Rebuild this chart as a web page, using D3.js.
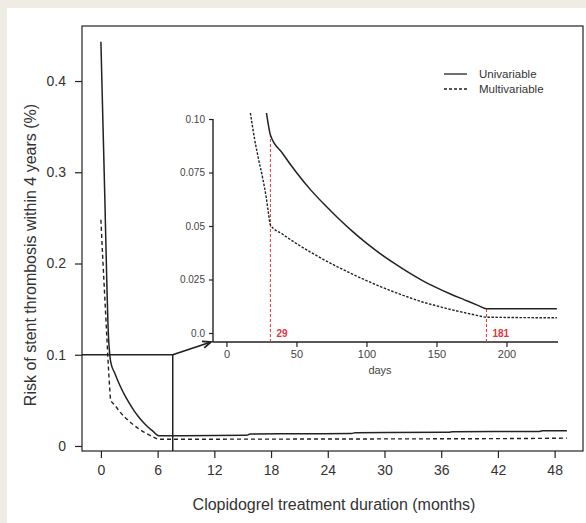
<!DOCTYPE html>
<html>
<head>
<meta charset="utf-8">
<script src="https://cdn.jsdelivr.net/npm/d3@7"></script>
<style>
body { margin: 0; background: #efece3; }
svg { display: block; font-family: "Liberation Sans", Arial, sans-serif; }
</style>
</head>
<body>
<svg id="chart" width="586" height="523"></svg>
<script>
// main panel: months vs risk
var monthTicks = [0, 6, 12, 18, 24, 30, 36, 42, 48];
var riskTicks = [0, 0.1, 0.2, 0.3, 0.4];
var riskTickLabels = ["0", "0.1", "0.2", "0.3", "0.4"];

var uniMonths = [0, 0.2, 0.42, 0.6, 0.8, 0.94, 1.03, 1.5, 2, 2.5, 3, 3.5, 4, 4.5, 5, 5.5, 6.1, 15.4, 15.8, 26.5, 26.9, 36.8, 37.2, 46.3, 46.7, 49.3];
var uniRisk = [0.443, 0.36, 0.27, 0.19, 0.12, 0.1, 0.0925, 0.079, 0.0665, 0.056, 0.047, 0.0388, 0.0318, 0.0257, 0.0206, 0.0163, 0.0113, 0.0118, 0.0132, 0.0136, 0.0146, 0.015, 0.0157, 0.0158, 0.0166, 0.0166];

var multiMonths = [0, 0.2, 0.4, 0.6, 0.8, 0.92, 1.03, 1.5, 2, 2.5, 3, 3.5, 4, 4.5, 5, 5.5, 6.1, 16, 27, 37, 46, 49.3];
var multiRisk = [0.248, 0.205, 0.165, 0.125, 0.085, 0.065, 0.0505, 0.0445, 0.0375, 0.0318, 0.027, 0.0227, 0.0188, 0.0155, 0.0126, 0.01, 0.0074, 0.0075, 0.0077, 0.0079, 0.0083, 0.0086];

// zoom marker in the main panel
var zoomMonth = 7.6;
var zoomRisk = 0.1;

// inset panel: days vs risk
var dayTicks = [0, 50, 100, 150, 200];
var insetRiskTicks = [0, 0.025, 0.05, 0.075, 0.1];
var insetRiskLabels = ["0.0", "0.025", "0.05", "0.075", "0.10"];

var uniDays = [28.6, 30, 31.4, 40, 50, 60, 70, 80, 90, 100, 110, 120, 130, 140, 150, 160, 170, 180, 185.7, 236];
var uniDayRisk = [0.1028, 0.097, 0.0925, 0.084, 0.075, 0.067, 0.06, 0.0535, 0.0475, 0.042, 0.037, 0.0325, 0.0283, 0.0245, 0.0212, 0.0182, 0.0155, 0.0128, 0.0113, 0.0113];

var multiDays = [17.1, 20, 23, 26, 28.5, 30, 31.4, 40, 50, 60, 70, 80, 90, 100, 110, 120, 130, 140, 150, 160, 170, 180, 185.7, 236];
var multiDayRisk = [0.1028, 0.091, 0.081, 0.072, 0.063, 0.056, 0.0505, 0.0462, 0.0418, 0.0378, 0.0341, 0.0307, 0.0275, 0.0245, 0.0217, 0.0191, 0.0167, 0.0145, 0.0127, 0.011, 0.0095, 0.0081, 0.0074, 0.0071];

var cutDays = [31.4, 185.7];
var cutTop = [0.0925, 0.0113];
var cutLabels = ["29", "181"];

var seriesNames = ["Univariable", "Multivariable"];

var ink = "#222";
var red = "#e2353b";

var svg = d3.select("#chart");

// white card on the beige page
svg.append("rect")
    .attr("x", 7).attr("y", 8)
    .attr("width", 579).attr("height", 515)
    .attr("fill", "#fff");

var x = d3.scaleLinear().domain([-2, 51]).range([82, 583]);
var y = d3.scaleLinear().domain([-0.0055, 0.4603]).range([451, 26]);

svg.append("rect")
    .attr("x", 82).attr("y", 26)
    .attr("width", 501).attr("height", 425)
    .attr("fill", "none")
    .attr("stroke", ink)
    .attr("stroke-width", 1.2);

var xAxis = svg.append("g")
    .attr("transform", "translate(0,451)")
    .call(d3.axisBottom(x).tickValues(monthTicks).tickSize(7).tickPadding(7));

var yAxis = svg.append("g")
    .attr("transform", "translate(82,0)")
    .call(d3.axisLeft(y).tickValues(riskTicks).tickSize(7).tickPadding(9)
        .tickFormat((d, i) => riskTickLabels[i]));

[xAxis, yAxis].forEach(a => {
    a.select(".domain").remove();
    a.selectAll("line").attr("stroke", ink).attr("stroke-width", 1.2);
    a.selectAll("text").attr("font-size", 14).attr("fill", "#333")
        .attr("font-family", "Liberation Sans, Arial, sans-serif");
});

svg.append("text")
    .attr("x", 334).attr("y", 510)
    .attr("text-anchor", "middle")
    .attr("font-size", 16)
    .attr("fill", "#333")
    .text("Clopidogrel treatment duration (months)");

svg.append("text")
    .attr("transform", "translate(30,255) rotate(-90)")
    .attr("text-anchor", "middle")
    .attr("dy", "0.35em")
    .attr("font-size", 16)
    .attr("fill", "#333")
    .text("Risk of stent thrombosis within 4 years (%)");

var line = d3.line()
    .x(d => x(d[0]))
    .y(d => y(d[1]))
    .curve(d3.curveMonotoneX);

svg.append("path")
    .datum(d3.zip(uniMonths, uniRisk))
    .attr("d", line)
    .attr("fill", "none")
    .attr("stroke", ink)
    .attr("stroke-width", 1.5);

svg.append("path")
    .datum(d3.zip(multiMonths, multiRisk))
    .attr("d", line)
    .attr("fill", "none")
    .attr("stroke", ink)
    .attr("stroke-width", 1.4)
    .attr("stroke-dasharray", "4,3");

// zoom marker lines
svg.append("path")
    .attr("d", "M" + x(-2) + "," + y(zoomRisk) + "H" + x(zoomMonth) + "V" + y(-0.0055))
    .attr("fill", "none")
    .attr("stroke", ink)
    .attr("stroke-width", 1.5);

// inset
var xi = d3.scaleLinear().domain([-9.6, 236.8]).range([213, 558]);
var yi = d3.scaleLinear().domain([0, 0.1]).range([333, 119]);

// arrow from the marker to the inset corner
var ax0 = x(zoomMonth), ay0 = y(zoomRisk), ax1 = 211, ay1 = 342;
var ang = Math.atan2(ay1 - ay0, ax1 - ax0);
svg.append("line")
    .attr("x1", ax0).attr("y1", ay0).attr("x2", ax1).attr("y2", ay1)
    .attr("stroke", ink).attr("stroke-width", 1.8);
svg.append("path")
    .attr("d", "M" + (ax1 - 9 * Math.cos(ang - 0.4)) + "," + (ay1 - 9 * Math.sin(ang - 0.4)) +
        "L" + ax1 + "," + ay1 +
        "L" + (ax1 - 9 * Math.cos(ang + 0.4)) + "," + (ay1 - 9 * Math.sin(ang + 0.4)))
    .attr("fill", "none")
    .attr("stroke", ink)
    .attr("stroke-width", 1.8);

// L-frame
svg.append("path")
    .attr("d", "M213,119V342H558")
    .attr("fill", "none")
    .attr("stroke", ink)
    .attr("stroke-width", 1.4);

var xiAxis = svg.append("g")
    .attr("transform", "translate(0,342)")
    .call(d3.axisBottom(xi).tickValues(dayTicks).tickSize(5).tickPadding(3));

var yiAxis = svg.append("g")
    .attr("transform", "translate(213,0)")
    .call(d3.axisLeft(yi).tickValues(insetRiskTicks).tickSize(4).tickPadding(4)
        .tickFormat((d, i) => insetRiskLabels[i]));

[xiAxis, yiAxis].forEach(a => {
    a.select(".domain").remove();
    a.selectAll("line").attr("stroke", ink).attr("stroke-width", 1.2);
    a.selectAll("text").attr("fill", "#444")
        .attr("font-family", "Liberation Sans, Arial, sans-serif");
});
xiAxis.selectAll("text").attr("font-size", 11);
yiAxis.selectAll("text").attr("font-size", 10);

svg.append("text")
    .attr("x", 380).attr("y", 374)
    .attr("text-anchor", "middle")
    .attr("font-size", 11)
    .attr("fill", "#444")
    .text("days");

// red cut-off lines
cutDays.forEach((d, i) => {
    svg.append("line")
        .attr("x1", xi(d)).attr("x2", xi(d))
        .attr("y1", 342).attr("y2", yi(cutTop[i]))
        .attr("stroke", red)
        .attr("stroke-width", 1)
        .attr("stroke-dasharray", "3,2");
    svg.append("text")
        .attr("x", xi(d) + 6).attr("y", 337)
        .attr("font-size", 10)
        .attr("font-weight", "bold")
        .attr("fill", red)
        .text(cutLabels[i]);
});

var lineI = d3.line()
    .x(d => xi(d[0]))
    .y(d => yi(d[1]))
    .curve(d3.curveMonotoneX);

svg.append("path")
    .datum(d3.zip(uniDays, uniDayRisk))
    .attr("d", lineI)
    .attr("fill", "none")
    .attr("stroke", ink)
    .attr("stroke-width", 1.5);

svg.append("path")
    .datum(d3.zip(multiDays, multiDayRisk))
    .attr("d", lineI)
    .attr("fill", "none")
    .attr("stroke", ink)
    .attr("stroke-width", 1.4)
    .attr("stroke-dasharray", "2.5,1.5");

// legend
var legend = svg.append("g").attr("transform", "translate(444,74)");
seriesNames.forEach((name, i) => {
    legend.append("line")
        .attr("x1", 0).attr("x2", 23)
        .attr("y1", i * 15).attr("y2", i * 15)
        .attr("stroke", ink)
        .attr("stroke-width", 1.3)
        .attr("stroke-dasharray", i === 0 ? null : "3,2");
    legend.append("text")
        .attr("x", 35).attr("y", i * 15)
        .attr("dy", "0.35em")
        .attr("font-size", 11.5)
        .attr("fill", "#333")
        .text(name);
});
</script>
</body>
</html>
